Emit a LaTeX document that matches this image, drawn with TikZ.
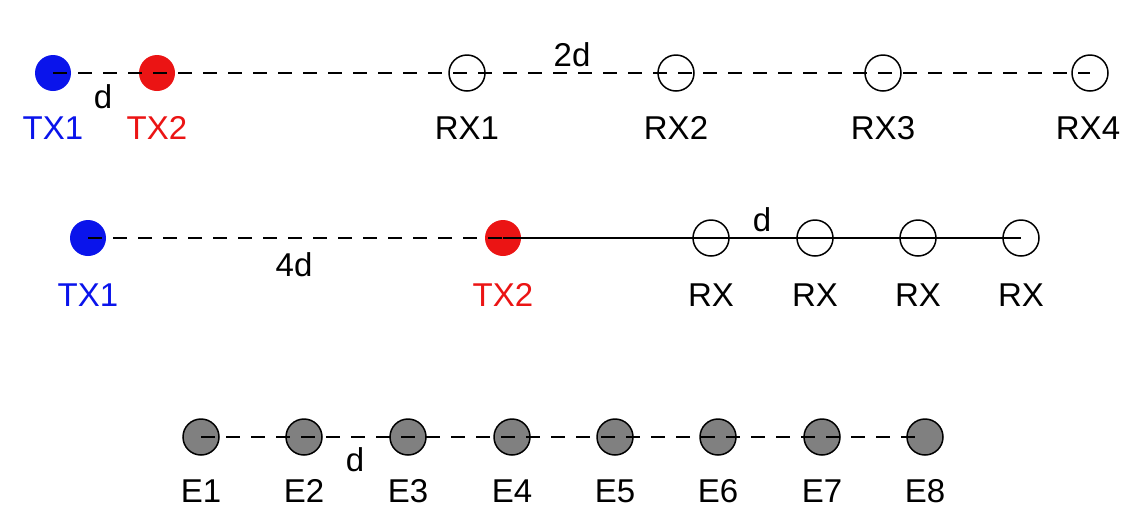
\documentclass[tikz,border=0pt]{standalone}
\usepackage{fontspec}
\setmainfont{Liberation Sans}
\definecolor{txblue}{RGB}{10,20,235}
\definecolor{txred}{RGB}{235,20,20}
\definecolor{egray}{RGB}{128,128,128}
\tikzset{
  txone/.style={circle,fill=txblue,minimum size=36pt,inner sep=0pt},
  txtwo/.style={circle,fill=txred,minimum size=36pt,inner sep=0pt},
  rxnode/.style={circle,draw=black,line width=1.5pt,fill=white,minimum size=36pt,inner sep=0pt},
  enode/.style={circle,draw=black,line width=1.5pt,fill=egray,minimum size=36pt,inner sep=0pt},
  lbl/.style={font=\fontsize{33}{38}\selectfont,inner sep=0pt,anchor=center},
  link/.style={line width=2.5pt,dash pattern=on 14pt off 11pt},
  solidlink/.style={line width=1.2pt}
}
\begin{document}
\begin{tikzpicture}[x=1pt,y=-1pt]
\useasboundingbox (0,0) rectangle (1139,531);
% row 1
\node[txone] (a1) at (53,73) {};
\node[txtwo] (a2) at (157,73) {};
\node[rxnode] (r1) at (467,73) {};
\node[rxnode] (r2) at (676,73) {};
\node[rxnode] (r3) at (883,73) {};
\node[rxnode] (r4) at (1090,73) {};
\draw[link] (a1.center) -- (r4.center);
\node[lbl,text=txblue] (la1) at (53,128) {TX1};
\node[lbl,text=txred] (la2) at (157,128) {TX2};
\node[lbl] (lr1) at (467,128) {RX1};
\node[lbl] (lr2) at (676,128) {RX2};
\node[lbl] (lr3) at (883,128) {RX3};
\node[lbl] (lr4) at (1088,128) {RX4};
\node[lbl] (da) at (103,97) {d};
\node[lbl] (db) at (572,55) {2d};
% row 2
\node[txone] (b1) at (88,238) {};
\node[txtwo] (b2) at (503,238) {};
\node[rxnode] (s1) at (711,238) {};
\node[rxnode] (s2) at (815,238) {};
\node[rxnode] (s3) at (918,238) {};
\node[rxnode] (s4) at (1021,238) {};
\draw[solidlink] (b2.center) -- (s4.center);
\draw[link] (b1.center) -- (s4.center);
\node[lbl,text=txblue] (lb1) at (88,295) {TX1};
\node[lbl,text=txred] (lb2) at (503,295) {TX2};
\node[lbl] (ls1) at (711,295) {RX};
\node[lbl] (ls2) at (815,295) {RX};
\node[lbl] (ls3) at (918,295) {RX};
\node[lbl] (ls4) at (1021,295) {RX};
\node[lbl] (dc) at (294,265) {4d};
\node[lbl] (dd) at (762,220) {d};
% row 3
\foreach \i/\x in {1/201,2/304,3/408,4/512,5/615,6/718,7/822,8/925}{
  \node[enode] (e\i) at (\x,437) {};
  \node[lbl] (le\i) at (\x,491) {E\i};
}
\draw[link] (e1.center) -- (e8.center);
\node[lbl] (de) at (355,460) {d};
\end{tikzpicture}
\end{document}
